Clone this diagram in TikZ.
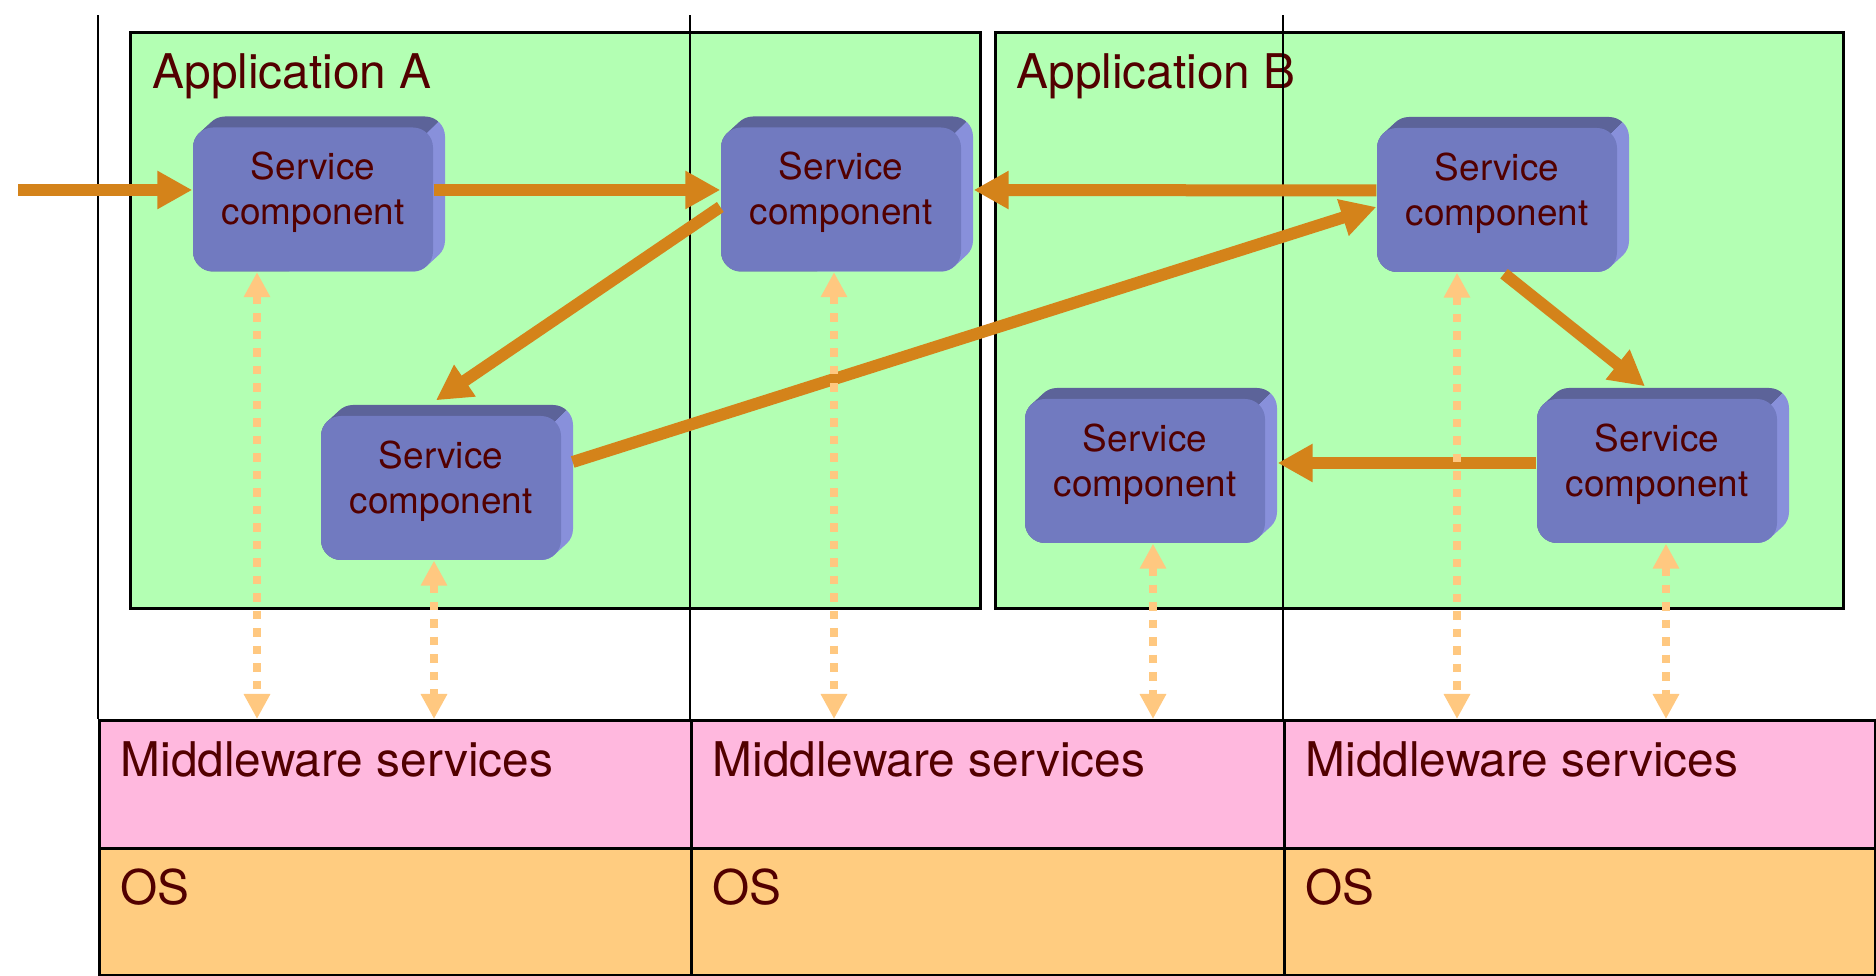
\documentclass[tikz,border=0pt]{standalone}
\usepackage{fontspec}
\setmainfont{TeX Gyre Heros}
\usetikzlibrary{arrows.meta}

\definecolor{appgreen}{HTML}{B3FFB3}
\definecolor{mwpink}{HTML}{FFB8DE}
\definecolor{ospeach}{HTML}{FFCC80}
\definecolor{svcfront}{HTML}{717AC0}
\definecolor{svctopc}{HTML}{5C6399}
\definecolor{svcsidec}{HTML}{8890DB}
\definecolor{flowcol}{HTML}{D4831A}
\definecolor{syscol}{HTML}{FFC880}
\definecolor{inkcol}{HTML}{520000}

% a service component: extruded rounded box, name at (x,y)
\newcommand{\svcbox}[3]{%
  \begin{scope}[shift={(#2,#3)}]
    \begin{scope}
      \clip (-186,234) -- (414,-366) -- (-186,-366) -- cycle;
      \foreach \t in {0,0.25,0.5,0.75,1}
        \fill[svctop] ({-120+12*\t},{-72-11*\t}) rectangle ({120+12*\t},{72-11*\t});
    \end{scope}
    \begin{scope}
      \clip (-186,234) -- (414,-366) -- (414,234) -- cycle;
      \foreach \t in {0,0.25,0.5,0.75,1}
        \fill[svcside] ({-120+12*\t},{-72-11*\t}) rectangle ({120+12*\t},{72-11*\t});
    \end{scope}
    \node[svc] (#1) at (0,0) {};
  \end{scope}
  \node[svctext] (#1txt) at ([yshift=0.7mm]#1) {Service\\component};
}

\begin{document}
\begin{tikzpicture}[x=0.1mm, y=-0.1mm,
    appbox/.style={draw, line width=0.27mm, fill=appgreen, anchor=north west,
      inner sep=0, minimum height=57.6mm},
    layer/.style={draw, line width=0.27mm, anchor=north west, inner sep=0,
      minimum height=12.8mm},
    title/.style={anchor=base west, inner sep=0, text=inkcol,
      font=\fontsize{13.6}{16}\selectfont},
    sepline/.style={line width=0.27mm},
    svc/.style={rectangle, rounded corners=2mm, fill=svcfront, inner sep=0,
      minimum width=24mm, minimum height=14.4mm},
    svctop/.style={fill=svctopc, rounded corners=2mm},
    svcside/.style={fill=svcsidec, rounded corners=2mm},
    svctext/.style={align=center, inner sep=0, text=inkcol,
      font=\fontsize{10.5}{12.8}\selectfont},
    flow/.style={draw=flowcol, line width=1.2mm,
      -{Triangle[length=3.5mm, width=3.6mm]}},
    sys/.style={draw=syscol, line width=0.85mm, dash pattern=on 0.85mm off 0.9mm,
      {Triangle[length=2.5mm, width=2.5mm]}-{Triangle[length=2.5mm, width=2.5mm]}}
  ]
    \useasboundingbox (0,0) rectangle (1876,976);

    % applications
    \node[appbox, minimum width=85mm] (appA) at (129,31) {};
    \node[appbox, minimum width=84.8mm] (appB) at (994,31) {};
    \node[title] (appAname) at (152,89) {Application A};
    \node[title] (appBname) at (1016,89) {Application B};

    % one column per host: middleware on top of the OS
    \node[layer, fill=mwpink, minimum width=59.2mm] (mw1) at (98,719) {};
    \node[layer, fill=mwpink, minimum width=59.3mm] (mw2) at (690,719) {};
    \node[layer, fill=mwpink, minimum width=59.1mm] (mw3) at (1283,719) {};
    \node[layer, fill=ospeach, minimum width=59.2mm, minimum height=12.75mm] (os1) at (98,847) {};
    \node[layer, fill=ospeach, minimum width=59.3mm, minimum height=12.75mm] (os2) at (690,847) {};
    \node[layer, fill=ospeach, minimum width=59.1mm, minimum height=12.75mm] (os3) at (1283,847) {};
    \foreach \c in {1,2,3} {
      \node[title] (mw\c name) at ([shift={(22,58)}]mw\c.north west) {Middleware services};
      \node[title] (os\c name) at ([shift={(22,58)}]os\c.north west) {OS};
      \draw[sepline] (mw\c.north west) -- ++(0,-704);
    }

    % service components
    \svcbox{a1}{313}{199.5}
    \svcbox{a2}{841}{199.5}
    \svcbox{a3}{441}{488}
    \svcbox{b1}{1497}{200}
    \svcbox{b2}{1657}{471}
    \svcbox{b3}{1145}{471}

    % invocations
    \coordinate (client) at (18,190);
    \draw[flow] (client) -- ([shift={(0,-9.5)}]a1.west);
    \draw[flow] ([shift={(0,-9.5)}]a1.east) -- ([shift={(0,-9.5)}]a2.west);
    \draw[flow] ([shift={(0,-9.5)}]b1.west) -- ([shift={(12,-9.5)}]a2.east);
    \draw[flow] ([shift={(0,7.5)}]a2.west) -- ([shift={(-5,-15)}]a3.north);
    \draw[flow] ([shift={(11,-26)}]a3.east) -- ([shift={(0,7)}]b1.west);
    \draw[flow] ([shift={(7,1)}]b1.south) -- ([shift={(-12,-12)}]b2.north);
    \draw[flow] ([shift={(0,-8)}]b2.west) -- ([shift={(12,-8)}]b3.east);

    % calls into the middleware
    \coordinate (p1) at (257,719);
    \coordinate (p2) at (434,719);
    \coordinate (p3) at (834,719);
    \coordinate (p4) at (1153,719);
    \coordinate (p5) at (1457,719);
    \coordinate (p6) at (1666,719);
    \foreach \p/\s in {p1/a1, p2/a3, p3/a2, p4/b3, p5/b1, p6/b2}
      \draw[sys] (\p |- \s.south) -- (\p);
\end{tikzpicture}
\end{document}
